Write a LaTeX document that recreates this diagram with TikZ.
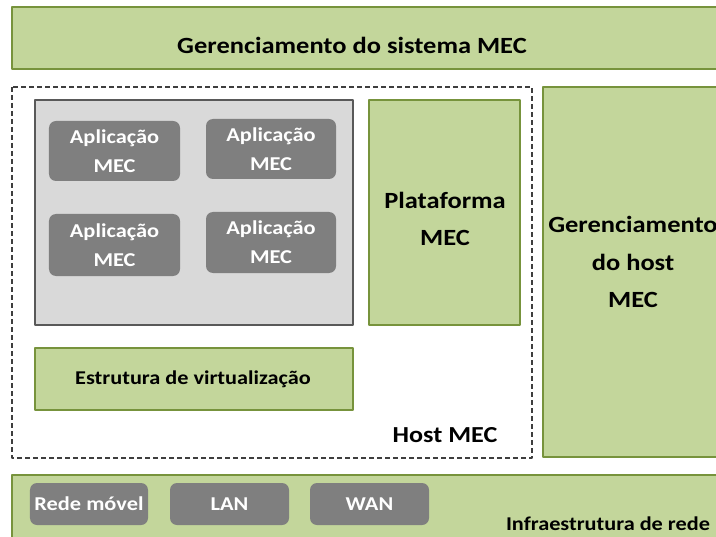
\documentclass[tikz,border=0pt]{standalone}
\usepackage{fontspec}
\setmainfont{Carlito}[FakeStretch=1.14]
\usepackage{xcolor}
\definecolor{verdeclaro}{HTML}{C3D69B}
\definecolor{verdeborda}{HTML}{77933C}
\definecolor{cinzaapp}{HTML}{7F7F7F}
\definecolor{cinzafundo}{HTML}{D9D9D9}
\definecolor{cinzaborda}{HTML}{595959}

\begin{document}
\begin{tikzpicture}[line join=round,x=1bp,y=-1bp,
  greenbox/.style={draw=verdeborda,fill=verdeclaro,line width=1.5bp},
  appbox/.style={fill=cinzaapp,rounded corners=7bp,text=white,font=\bfseries\fontsize{19.7}{29}\selectfont,align=center}]
			\useasboundingbox (0,0) rectangle (716,537);
			\clip (0,0) rectangle (716,537);
			% barras verdes
			\draw [greenbox] (12,7) rectangle (730,69);
			\draw [greenbox] (12,475) rectangle (730,550);
			\draw [greenbox] (543,87) rectangle (717,457);
			\draw [greenbox] (369,100) rectangle (520,325);
			\draw [greenbox] (35,348) rectangle (353,410);
			% host MEC
			\draw [dash pattern=on 5bp off 3bp,line width=1.2bp,draw=cinzaborda!70!black] (12,87) rectangle (532,458);
			\draw [fill=cinzafundo,draw=cinzaborda,line width=1.5bp] (35,100) rectangle (353,325);
			% aplicacoes
			\node [appbox,minimum width=131bp,minimum height=60bp] (app1) at (114.5,151) {Aplicação\\MEC};
			\node [appbox,minimum width=130bp,minimum height=60bp] (app2) at (271,149) {Aplicação\\MEC};
			\node [appbox,minimum width=131bp,minimum height=62bp] (app3) at (114.5,245) {Aplicação\\MEC};
			\node [appbox,minimum width=130bp,minimum height=61bp] (app4) at (271,242.5) {Aplicação\\MEC};
			% redes
			\node [appbox,minimum width=118bp,minimum height=42bp] (movel) at (89,504) {Rede móvel};
			\node [appbox,minimum width=119bp,minimum height=42bp] (lan) at (229.5,504) {LAN};
			\node [appbox,minimum width=119bp,minimum height=42bp] (wan) at (369.5,504) {WAN};
			% textos
			\node [font=\bfseries\fontsize{23.3}{26}\selectfont] (sistema) at (352,45) {Gerenciamento do sistema MEC};
			\node [font=\bfseries\fontsize{23.3}{38}\selectfont,align=center] (plataforma) at (445,219) {Plataforma\\MEC};
			\node [font=\bfseries\fontsize{23.3}{37.5}\selectfont,align=center] (hostger) at (633,262) {Gerenciamento\\do host\\MEC};
			\node [font=\bfseries\fontsize{19.6}{20}\selectfont] (virt) at (193,379) {Estrutura de virtualização};
			\node [font=\bfseries\fontsize{23}{26}\selectfont] (host) at (445,435) {Host MEC};
			\node [font=\bfseries\fontsize{19.6}{20}\selectfont] (infra) at (608,524) {Infraestrutura de rede};
			\end{tikzpicture}
\end{document}
